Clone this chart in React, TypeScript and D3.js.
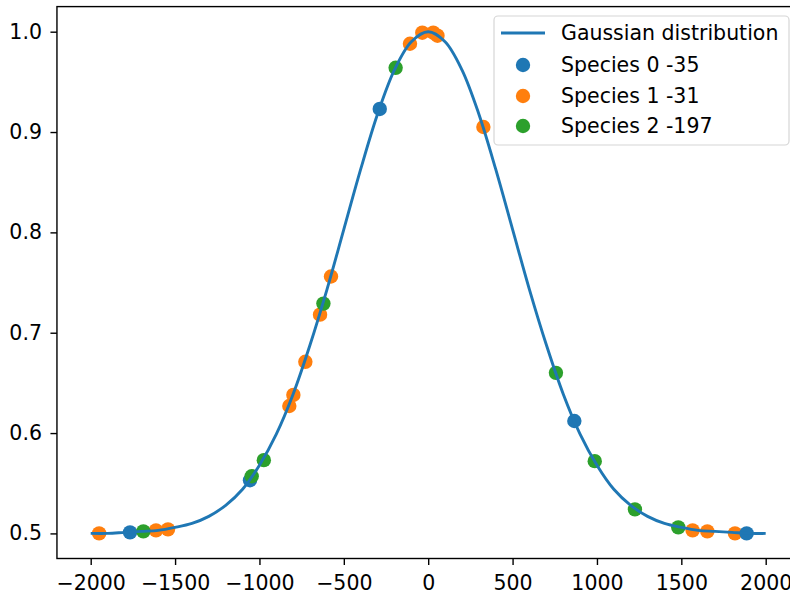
import React, { useEffect, useRef } from 'react';
import * as d3 from 'd3';

// Gaussian curve, every 100 units
const curveX = d3.range(-2000, 2001, 100);
const curveY = [
  0.5, 0.5, 0.501, 0.502, 0.503, 0.506, 0.51, 0.517, 0.528, 0.544, 0.568,
  0.599, 0.639, 0.688, 0.743, 0.803, 0.863, 0.918, 0.962, 0.99, 1.0,
  0.99, 0.962, 0.918, 0.863, 0.803, 0.743, 0.688, 0.639, 0.599, 0.568,
  0.544, 0.528, 0.517, 0.51, 0.506, 0.503, 0.502, 0.501, 0.5, 0.5,
];

// Scatter points per species
const species0X = [-1767, -1056, -287, 866, 1887];
const species0Y = [0.501, 0.553, 0.923, 0.612, 0.5];
const species1X = [-1950, -1613, -1542, -823, -799, -728, -641, -576, -108, -35, 30, 55, 327, 1567, 1654, 1818];
const species1Y = [0.5, 0.503, 0.504, 0.627, 0.638, 0.671, 0.718, 0.756, 0.988, 0.999, 0.999, 0.996, 0.905, 0.503, 0.502, 0.5];
const species2X = [-1688, -1046, -974, -621, -193, 757, 987, 1225, 1482];
const species2Y = [0.502, 0.557, 0.573, 0.729, 0.964, 0.66, 0.572, 0.524, 0.506];

const xTicks = [-2000, -1500, -1000, -500, 0, 500, 1000, 1500, 2000];
const yTicks = [0.5, 0.6, 0.7, 0.8, 0.9, 1.0];

const legendLabels = ['Gaussian distribution', 'Species 0 -35', 'Species 1 -31', 'Species 2 -197'];
const colors = ['#1f77b4', '#ff7f0e', '#2ca02c'];

const App: React.FC = () => {
  const ref = useRef<SVGSVGElement>(null);

  useEffect(() => {
    if (!ref.current) return;
    const svg = d3.select(ref.current);
    svg.selectAll('*').remove();

    const font = "'DejaVu Sans', sans-serif";
    const fontSize = '20.5px';
    const x = d3.scaleLinear().domain([-2200, 2200]).range([56.95, 799.45]);
    const y = d3.scaleLinear().domain([0.475, 1.025]).range([558.5, 6.6]);

    svg.append('rect').attr('width', 790).attr('height', 596).attr('fill', 'white');

    // scatters (drawn under the line, like matplotlib)
    const series = [
      { xs: species1X, ys: species1Y, color: colors[1] },
      { xs: species0X, ys: species0Y, color: colors[0] },
      { xs: species2X, ys: species2Y, color: colors[2] },
    ];
    series.forEach(s => {
      svg.append('g')
        .selectAll('circle')
        .data(s.xs.map((v, i) => [v, s.ys[i]]))
        .enter()
        .append('circle')
        .attr('cx', d => x(d[0]))
        .attr('cy', d => y(d[1]))
        .attr('r', 7.2)
        .attr('fill', s.color);
    });

    const line = d3.line<number>()
      .x((d, i) => x(curveX[i]))
      .y(d => y(d))
      .curve(d3.curveCatmullRom);

    svg.append('path')
      .attr('d', line(curveY))
      .attr('fill', 'none')
      .attr('stroke', colors[0])
      .attr('stroke-width', 2.9);

    // spines
    const [x0, x1] = x.range();
    const [y0, y1] = y.range();
    svg.append('rect')
      .attr('x', x0).attr('y', y1)
      .attr('width', x1 - x0).attr('height', y0 - y1)
      .attr('fill', 'none')
      .attr('stroke', 'black')
      .attr('stroke-width', 1.4);

    // axes
    const xAxis = svg.append('g')
      .attr('transform', `translate(0,${y0})`)
      .call(d3.axisBottom(x).tickValues(xTicks).tickFormat(d3.format('.0f')).tickSize(6.5).tickPadding(10));
    const yAxis = svg.append('g')
      .attr('transform', `translate(${x0},0)`)
      .call(d3.axisLeft(y).tickValues(yTicks).tickFormat(d3.format('.1f')).tickSize(6.5).tickPadding(8.5));
    [xAxis, yAxis].forEach(a => {
      a.select('.domain').remove();
      a.selectAll('line').attr('stroke', 'black').attr('stroke-width', 1.4);
      a.selectAll('text').attr('font-family', font).attr('font-size', fontSize).attr('fill', 'black');
    });

    // legend
    const lg = svg.append('g');
    lg.append('rect')
      .attr('x', 494).attr('y', 16)
      .attr('width', 295).attr('height', 129)
      .attr('rx', 4)
      .attr('fill', 'white').attr('fill-opacity', 0.8)
      .attr('stroke', '#d6d6d6').attr('stroke-width', 1.2);
    const rowY = [33, 65, 96, 126];
    lg.append('line')
      .attr('x1', 501).attr('x2', 545)
      .attr('y1', rowY[0]).attr('y2', rowY[0])
      .attr('stroke', colors[0]).attr('stroke-width', 2.9);
    colors.forEach((c, i) => {
      lg.append('circle').attr('cx', 523).attr('cy', rowY[i + 1]).attr('r', 7.2).attr('fill', c);
    });
    legendLabels.forEach((t, i) => {
      lg.append('text')
        .attr('x', 561).attr('y', rowY[i])
        .attr('dy', '0.35em')
        .attr('font-family', font).attr('font-size', fontSize)
        .attr('fill', 'black')
        .text(t);
    });
  }, []);

  return (
    <svg
      ref={ref}
      width={790}
      height={596}
      style={{ position: 'absolute', left: 0, top: 0, display: 'block' }}
    />
  );
};

export default App;
